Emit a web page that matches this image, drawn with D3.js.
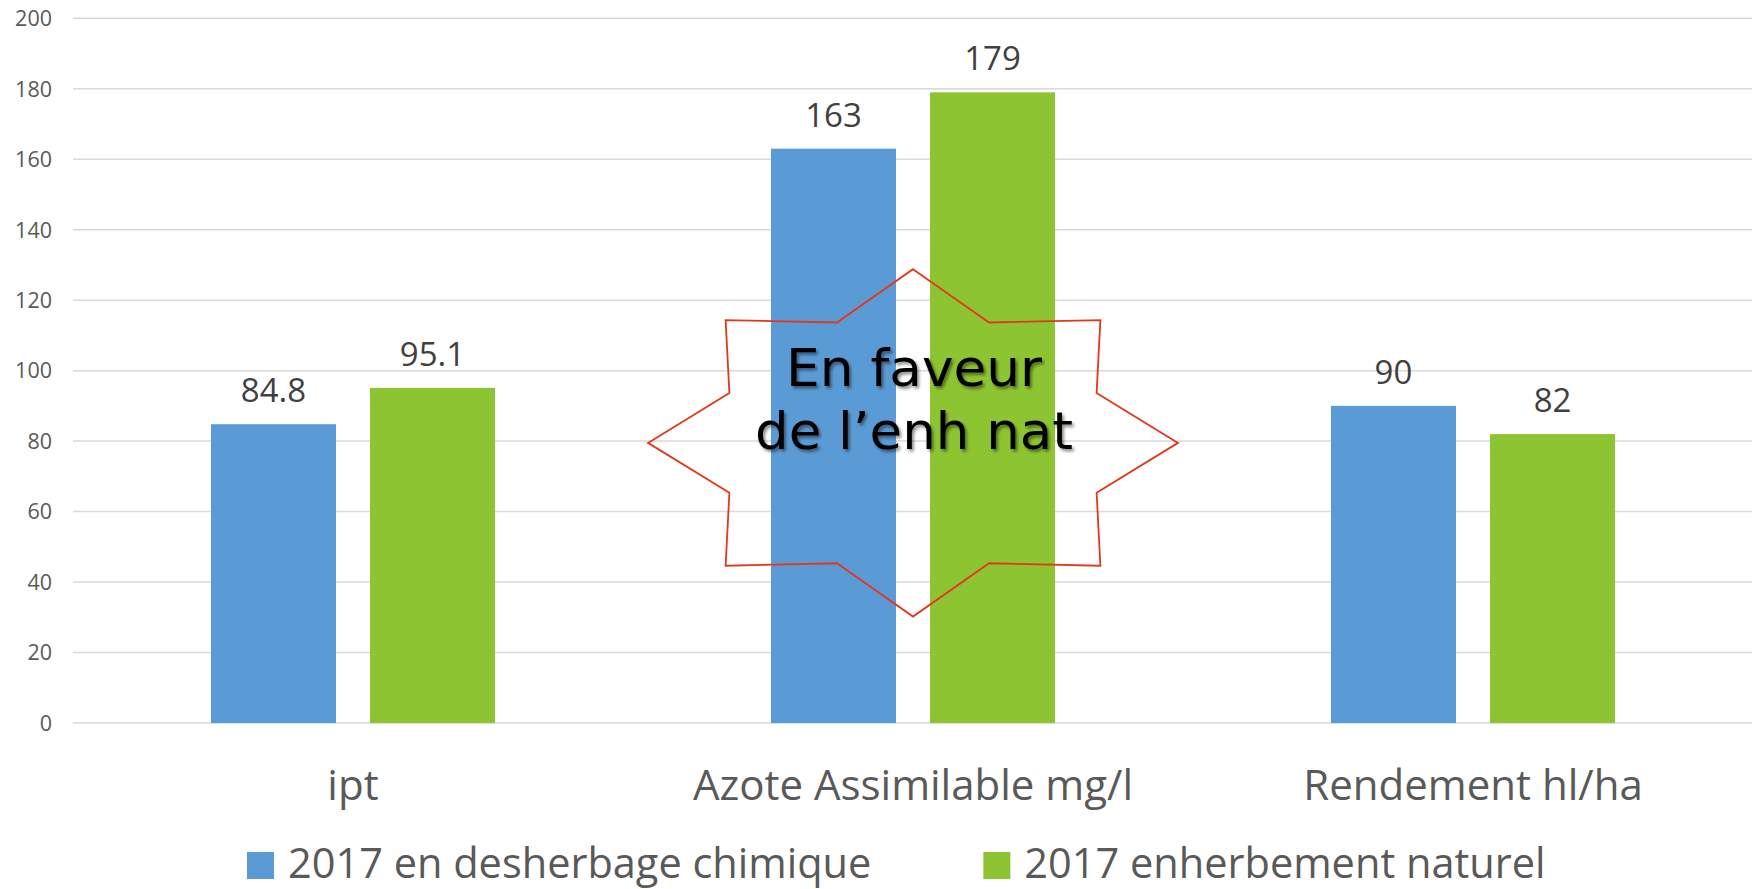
<!DOCTYPE html>
<html>
<head>
<meta charset="utf-8">
<script src="https://cdn.jsdelivr.net/npm/d3@7"></script>
<style>
  html, body { margin: 0; padding: 0; background: #ffffff; }
  svg { display: block; }
</style>
</head>
<body>
<svg id="chart" width="1752" height="889"></svg>
<script>
// ---- data ----
const categories = ["ipt", "Azote Assimilable mg/l", "Rendement hl/ha"];
const seriesNames = ["2017 en desherbage chimique", "2017 enherbement naturel"];
const desherbageValues = [84.8, 163, 90];
const enherbementValues = [95.1, 179, 82];
const yTickValues = [0, 20, 40, 60, 80, 100, 120, 140, 160, 180, 200];
const annotationLines = ["En faveur", "de l\u2019enh nat"];
const annotationCategory = "Azote Assimilable mg/l";

// ---- style ----
const colors = ["#5B9BD5", "#8DC532"];
const W = 1752, H = 889;
const plot = { left: 73, right: 1753, top: 18.3, bottom: 723 };
const uiFont = "'Open Sans', 'Noto Sans', sans-serif";

const svg = d3.select("#chart");

const defs = svg.append("defs");
const f = defs.append("filter").attr("id", "shadow").attr("x", "-10%").attr("y", "-20%").attr("width", "130%").attr("height", "150%");
f.append("feDropShadow").attr("dx", 2).attr("dy", 2.5).attr("stdDeviation", 1.6)
  .attr("flood-color", "#000").attr("flood-opacity", 0.45);

const x0 = d3.scaleBand().domain(categories).range([plot.left, plot.right]).paddingInner(0).paddingOuter(0);
const x1 = d3.scaleBand().domain(d3.range(seriesNames.length)).range([0, x0.bandwidth()])
  .paddingInner(0.214).paddingOuter(0.868);
const y = d3.scaleLinear().domain([0, 200]).range([plot.bottom, plot.top]);

// gridlines
svg.append("g").selectAll("line").data(yTickValues).join("line")
  .attr("x1", plot.left).attr("x2", W)
  .attr("y1", d => y(d)).attr("y2", d => y(d))
  .attr("stroke", "#D9D9D9").attr("stroke-width", 1.5);

// y axis labels
const yAxis = d3.axisLeft(y).tickValues(yTickValues).tickSize(0).tickPadding(0).tickFormat(d3.format("d"));
const yg = svg.append("g").attr("transform", "translate(52,0)").call(yAxis);
yg.select(".domain").remove();
yg.selectAll("text").attr("font-family", uiFont).attr("font-size", 21.5).attr("fill", "#595959")
  .attr("dy", "0.34em");

// bars
const seriesData = [desherbageValues, enherbementValues];
const groups = svg.append("g").selectAll("g").data(categories).join("g")
  .attr("transform", c => `translate(${x0(c)},0)`);

groups.selectAll("rect").data((c, ci) => seriesData.map((vals, si) => ({ si, v: vals[ci] })))
  .join("rect")
  .attr("x", d => x1(d.si))
  .attr("width", x1.bandwidth())
  .attr("y", d => y(d.v))
  .attr("height", d => y(0) - y(d.v))
  .attr("fill", d => colors[d.si]);

// data labels
groups.selectAll("text.val").data((c, ci) => seriesData.map((vals, si) => ({ si, v: vals[ci] })))
  .join("text").attr("class", "val")
  .attr("x", d => x1(d.si) + x1.bandwidth() / 2)
  .attr("y", d => y(d.v) - 22)
  .attr("text-anchor", "middle")
  .attr("font-family", uiFont).attr("font-size", 33).attr("fill", "#404040")
  .text(d => String(d.v));

// category axis labels
const xAxis = d3.axisBottom(x0).tickSize(0).tickPadding(0);
const xg = svg.append("g").attr("transform", `translate(0,${plot.bottom})`).call(xAxis);
xg.select(".domain").remove();
xg.selectAll("text").attr("font-family", uiFont).attr("font-size", 42).attr("fill", "#595959")
  .attr("y", 77).attr("dy", 0);

// legend
const legend = svg.append("g");
let lx = 247;
seriesNames.forEach((name, i) => {
  legend.append("rect").attr("x", lx).attr("y", 852).attr("width", 27).attr("height", 27).attr("fill", colors[i]);
  const t = legend.append("text").attr("x", lx + 41).attr("y", 878)
    .attr("font-family", uiFont).attr("font-size", 41.5).attr("fill", "#595959").text(name);
  const w = t.node().getComputedTextLength();
  lx = lx + 41 + w + 112;
});

// annotation star (8 points)
const cx = x0(annotationCategory) + x0.bandwidth() / 2;
const cy = y(79.5);
const rx = 265, ry = y(79.5) - y(128.8), inner = 0.75;
const pts = [];
for (let k = 0; k < 16; k++) {
  const a = -Math.PI / 2 + k * Math.PI / 8;
  const r = (k % 2 === 0) ? 1 : inner;
  pts.push([cx + rx * r * Math.cos(a), cy + ry * r * Math.sin(a)]);
}
svg.append("path").attr("d", d3.line()(pts) + "Z")
  .attr("fill", "none").attr("stroke", "#E2381C").attr("stroke-width", 1.8).attr("stroke-linejoin", "miter");

const annoWidths = [256, 318];
const annoBase = [386, 449];
annotationLines.forEach((line, i) => {
  svg.append("text").attr("x", cx + 1).attr("y", annoBase[i])
    .attr("text-anchor", "middle")
    .attr("font-family", "'DejaVu Sans', Verdana, sans-serif").attr("font-size", 52)
    .attr("fill", "#000").attr("filter", "url(#shadow)")
    .attr("textLength", annoWidths[i]).attr("lengthAdjust", "spacingAndGlyphs")
    .text(line);
});
</script>
</body>
</html>
